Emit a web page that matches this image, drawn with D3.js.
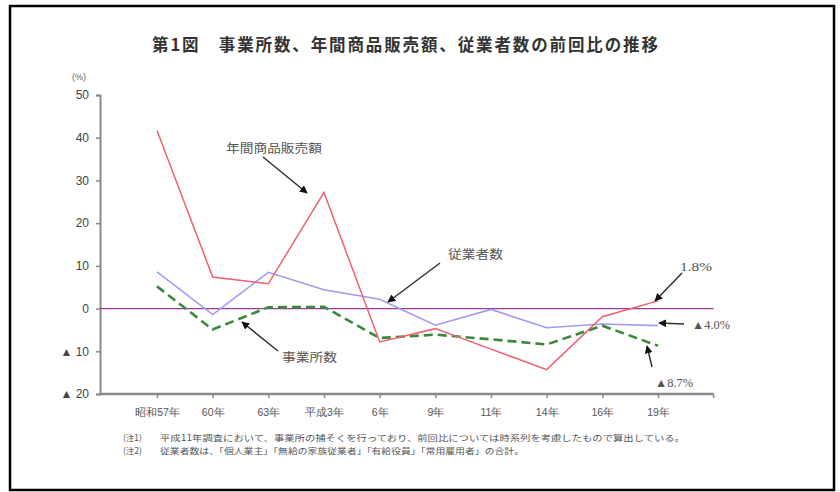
<!DOCTYPE html>
<html>
<head>
<meta charset="utf-8">
<script src="https://cdn.jsdelivr.net/npm/d3@7/dist/d3.min.js"></script>
<style>
  html, body { margin: 0; padding: 0; background: #fff; }
  svg { display: block; font-family: "Noto Sans CJK JP", "Noto Sans", sans-serif; }
</style>
</head>
<body>
<svg id="chart" width="840" height="492"></svg>
<script>
// Survey years (x categories)
const categories = ["昭和57年", "60年", "63年", "平成3年", "6年", "9年", "11年", "14年", "16年", "19年"];
// Year-on-previous-survey change, %
const salesValues = [41.7, 7.4, 5.8, 27.2, -7.8, -4.7, -9.5, -14.3, -1.9, 1.8];      // 年間商品販売額
const employeeValues = [8.6, -1.4, 8.5, 4.4, 2.2, -3.9, -0.2, -4.5, -3.6, -4.0];     // 従業者数
const establishmentValues = [5.2, -4.9, 0.3, 0.4, -6.9, -6.1, -7.2, -8.4, -4.0, -8.7]; // 事業所数
// Y axis ticks and their labels (negatives written with ▲)
const yTicks = [50, 40, 30, 20, 10, 0, -10, -20];
const yTickLabels = ["50", "40", "30", "20", "10", "0", "▲ 10", "▲ 20"];

const svg = d3.select("#chart");

// outer frame
svg.append("rect").attr("x", 10).attr("y", 6).attr("width", 824).attr("height", 484)
  .attr("fill", "#fff").attr("stroke", "#000").attr("stroke-width", 2.5);

// title
svg.append("text").attr("x", 152).attr("y", 51)
  .attr("textLength", 506).attr("lengthAdjust", "spacing")
  .attr("font-size", 16.5).attr("font-weight", "bold").attr("fill", "#333")
  .text("第1図　事業所数、年間商品販売額、従業者数の前回比の推移");

const x = d3.scalePoint().domain(categories).range([157, 658]);
const step = x.step();
const y = d3.scaleLinear().domain([-20, 50]).range([394, 95]);
const xEnd = x(categories[categories.length - 1]) + step;

const axisColor = "#8a8a8a";

// y axis
const yAxis = svg.append("g").attr("transform", "translate(100,0)")
  .call(d3.axisLeft(y).tickValues(yTicks).tickSize(4).tickFormat((d, i) => yTickLabels[i]));
yAxis.select(".domain").attr("stroke", axisColor).attr("stroke-width", 2);
yAxis.selectAll(".tick line").attr("stroke", axisColor).attr("stroke-width", 1.5);
yAxis.selectAll(".tick text").attr("font-size", 12).attr("fill", "#444")
  .attr("font-family", "Liberation Sans, sans-serif").attr("x", -11);

svg.append("text").attr("x", 72).attr("y", 80).attr("font-size", 9).attr("fill", "#666")
  .attr("font-family", "Liberation Sans, sans-serif").text("(%)");

// x axis: line spans from the y axis to one step past the last point
const xAxis = svg.append("g").attr("transform", "translate(0,394)")
  .call(d3.axisBottom(x).tickSize(4).tickPadding(11));
xAxis.select(".domain").remove();
xAxis.append("line").attr("x1", 100).attr("x2", xEnd)
  .attr("stroke", axisColor).attr("stroke-width", 2.5);
xAxis.append("line").attr("x1", xEnd).attr("x2", xEnd).attr("y2", 4)
  .attr("stroke", axisColor).attr("stroke-width", 1.5);
xAxis.selectAll(".tick line").attr("stroke", axisColor).attr("stroke-width", 1.5);
xAxis.selectAll(".tick text").attr("font-size", 10.5).attr("fill", "#555");

// zero reference line
svg.append("line").attr("x1", 100).attr("x2", xEnd)
  .attr("y1", y(0)).attr("y2", y(0)).attr("stroke", "#9b3a9b").attr("stroke-width", 1.2);

const line = d3.line().x((d, i) => x(categories[i])).y(d => y(d));

svg.append("path").datum(employeeValues).attr("d", line)
  .attr("fill", "none").attr("stroke", "#9e9cf4").attr("stroke-width", 1.6);
svg.append("path").datum(establishmentValues).attr("d", line)
  .attr("fill", "none").attr("stroke", "#3a8a3a").attr("stroke-width", 2.6)
  .attr("stroke-dasharray", "9,5");
svg.append("path").datum(salesValues).attr("d", line)
  .attr("fill", "none").attr("stroke", "#f0606e").attr("stroke-width", 1.5);

// annotation arrows
const defs = svg.append("defs");
defs.append("marker").attr("id", "head").attr("viewBox", "0 0 10 10")
  .attr("refX", 9).attr("refY", 5).attr("markerWidth", 8).attr("markerHeight", 8)
  .attr("markerUnits", "userSpaceOnUse").attr("orient", "auto")
  .append("path").attr("d", "M0,0 L10,5 L0,10 Z").attr("fill", "#111");

const arrows = [
  [263, 157, 307, 193],
  [440, 263, 388, 302],
  [278, 351, 242, 322],
  [682, 273, 655, 301],
  [684, 324, 659, 323],
  [652, 367, 647, 346]
];
svg.selectAll(".arrow").data(arrows).join("line").attr("class", "arrow")
  .attr("x1", d => d[0]).attr("y1", d => d[1]).attr("x2", d => d[2]).attr("y2", d => d[3])
  .attr("stroke", "#333").attr("stroke-width", 1.5).attr("marker-end", "url(#head)");

// annotation labels: text, x, baseline y, width
const notes = [
  ["年間商品販売額", 226, 153, 96],
  ["従業者数", 448, 259, 55],
  ["事業所数", 282, 362, 55],
  ["1.8%", 680, 271, 32],
  ["▲4.0%", 692, 329, 38],
  ["▲8.7%", 655, 387, 38]
];
svg.selectAll(".note").data(notes).join("text").attr("class", "note")
  .attr("x", d => d[1]).attr("y", d => d[2]).attr("font-size", 12).attr("fill", "#555")
  .attr("textLength", d => d[3]).attr("lengthAdjust", "spacingAndGlyphs")
  .attr("font-family", d => /%/.test(d[0]) ? "Liberation Serif, serif" : "Noto Sans CJK JP, sans-serif")
  .text(d => d[0]);

// footnotes
const footnotes = [
  ["(注1)", "平成11年調査において、事業所の捕そくを行っており、前回比については時系列を考慮したもので算出している。", 441, 525],
  ["(注2)", "従業者数は、「個人業主」「無給の家族従業者」「有給役員」「常用雇用者」の合計。", 453.5, 364]
];
footnotes.forEach(f => {
  svg.append("text").attr("x", 123).attr("y", f[2]).attr("font-size", 8.5).attr("fill", "#555").text(f[0]);
  svg.append("text").attr("x", 160).attr("y", f[2]).attr("font-size", 8.5).attr("fill", "#555")
    .attr("textLength", f[3]).attr("lengthAdjust", "spacingAndGlyphs").text(f[1]);
});
</script>
</body>
</html>
